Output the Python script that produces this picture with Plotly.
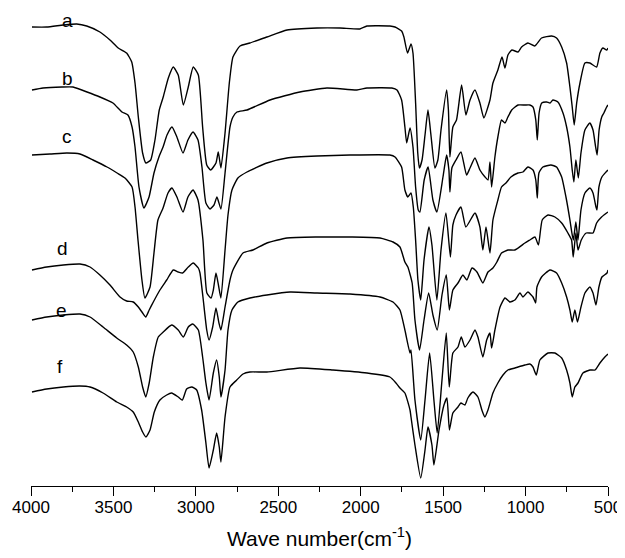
import plotly.graph_objects as go

# FTIR spectra, wavenumber (cm-1) vs. offset transmittance (arbitrary units)
wn_a = [3994,3905,3804,3723,3662,3582,3521,3471,3420,3389,3369,3349,3323,3303,3274,3248,3222,3198,3167,3137,3107,3076,3046,3016,2985,2959,2934,2910,2878,2864,2848,2823,2797,2775,2732,2672,2569,2447,2265,2126,2005,1962,1823,1792,1752,1738,1716,1695,1683,1667,1654,1644,1628,1610,1592,1574,1550,1532,1513,1479,1468,1459,1441,1419,1388,1362,1337,1307,1277,1253,1216,1198,1168,1143,1125,1107,1083,1046,1024,986,944,903,842,812,781,751,731,717,705,690,670,640,610,569,549,531,508,500]
t_a = [459,459,461,462,460,454,446,438,433,424,403,369,333,323,326,346,376,389,408,419,411,381,399,419,411,359,321,316,323,334,318,353,403,429,440,443,449,456,458,458,457,460,460,459,455,449,433,442,433,383,333,318,326,351,376,351,318,326,356,396,376,329,359,366,401,371,386,396,383,368,386,403,416,429,418,431,436,434,439,443,440,448,450,448,439,423,399,379,361,383,403,423,423,419,433,438,436,438]

wn_b = [3994,3927,3812,3745,3660,3582,3503,3448,3412,3387,3369,3345,3315,3284,3254,3224,3199,3175,3145,3115,3078,3048,3017,2987,2963,2939,2914,2890,2872,2848,2823,2793,2775,2751,2690,2550,2369,2205,2023,1962,1811,1780,1752,1732,1721,1701,1683,1667,1651,1641,1615,1591,1562,1538,1501,1479,1465,1459,1447,1422,1392,1358,1337,1307,1277,1246,1228,1216,1206,1186,1168,1146,1125,1107,1084,1046,1004,974,955,938,929,918,902,872,852,834,804,773,751,731,717,707,695,680,664,640,610,591,575,566,554,538,525,508,500]
t_b = [396,398,399,399,394,389,383,374,371,359,339,299,278,289,313,329,339,351,359,349,333,346,354,346,319,283,277,281,289,277,313,359,369,374,376,386,394,398,396,398,398,396,386,359,343,358,339,299,276,274,306,319,286,274,309,331,316,294,318,326,334,311,318,328,316,309,306,324,299,329,349,366,363,369,376,381,381,381,379,366,346,373,383,384,383,386,384,373,359,339,316,304,326,308,333,356,363,356,339,331,356,369,373,379,381]

wn_c = [3994,3885,3782,3703,3624,3539,3478,3430,3387,3369,3351,3327,3309,3278,3254,3230,3199,3169,3145,3115,3078,3048,3017,2987,2957,2933,2908,2894,2878,2863,2848,2823,2805,2781,2745,2690,2569,2447,2265,2065,1823,1792,1752,1732,1714,1695,1681,1667,1653,1636,1616,1586,1568,1538,1513,1483,1456,1441,1422,1392,1362,1307,1277,1259,1240,1216,1198,1168,1146,1119,1089,1046,1016,986,955,938,929,919,895,846,812,781,755,731,719,710,695,682,664,640,610,591,573,567,555,537,512,500]
t_c = [331,332,333,332,326,319,313,308,299,279,246,206,188,199,233,266,278,293,298,289,274,289,296,286,246,193,188,196,213,201,188,236,271,296,308,314,323,328,330,331,331,329,319,296,289,293,279,246,206,186,226,259,241,186,236,273,229,261,271,279,259,273,259,236,259,233,266,286,299,303,309,313,314,319,316,306,288,313,319,321,319,309,289,266,253,246,264,246,276,293,298,293,279,276,299,309,314,316]

wn_d = [3994,3905,3804,3703,3642,3582,3521,3460,3420,3380,3349,3323,3304,3283,3258,3218,3177,3137,3107,3080,3046,3016,2985,2975,2957,2934,2920,2898,2878,2860,2848,2823,2793,2775,2714,2654,2569,2447,2265,2065,1883,1804,1762,1732,1714,1688,1671,1643,1616,1588,1562,1536,1507,1481,1462,1441,1410,1380,1356,1325,1295,1259,1228,1198,1174,1146,1107,1065,1004,974,943,922,899,864,822,781,743,721,711,695,682,662,632,591,569,539,500]
t_d = [216,219,221,222,219,211,201,189,185,184,179,173,169,176,184,196,206,216,214,213,219,223,218,213,189,156,146,159,178,163,156,179,206,216,233,236,243,248,249,249,248,244,239,224,219,203,166,136,166,193,171,156,191,211,176,196,203,211,206,218,214,203,214,218,224,233,236,236,243,246,249,241,266,271,269,263,253,246,229,253,236,246,253,253,263,269,274]

wn_e = [3994,3905,3804,3703,3642,3563,3480,3420,3380,3349,3323,3304,3283,3258,3228,3198,3147,3107,3076,3046,3019,2985,2959,2939,2920,2894,2874,2858,2848,2823,2805,2781,2745,2672,2569,2429,2265,2065,1883,1804,1762,1732,1701,1695,1671,1636,1610,1582,1556,1536,1507,1481,1463,1441,1410,1390,1368,1337,1307,1289,1259,1236,1216,1206,1186,1155,1125,1095,1065,1034,1016,986,955,939,931,903,852,812,781,751,731,717,701,685,664,640,610,591,573,555,537,506,500]
t_e = [166,169,171,172,169,159,148,141,134,119,99,89,103,129,149,154,161,156,149,159,162,156,129,103,86,113,126,109,89,116,156,176,184,188,191,194,193,192,189,184,176,156,133,136,86,46,86,133,86,53,106,153,99,133,139,149,139,146,156,149,129,146,153,138,156,179,188,184,186,193,189,194,189,183,199,209,216,213,203,189,176,164,176,164,179,193,199,193,181,199,209,213,216]

wn_f = [3994,3905,3804,3703,3642,3563,3480,3420,3380,3349,3323,3303,3278,3252,3218,3177,3147,3107,3082,3056,3025,2995,2965,2939,2920,2894,2874,2858,2848,2823,2793,2752,2714,2672,2569,2369,2168,1962,1823,1786,1762,1732,1701,1695,1671,1636,1610,1592,1568,1556,1525,1495,1477,1462,1441,1410,1392,1368,1350,1319,1289,1265,1247,1228,1198,1168,1137,1107,1065,1004,974,955,935,913,864,822,781,751,731,717,701,682,652,610,579,549,519,500]
t_f = [94,97,99,100,99,93,84,79,74,64,54,49,56,74,86,91,93,89,86,97,99,96,76,43,18,36,53,39,24,69,99,106,112,114,114,118,116,113,109,103,98,93,76,69,41,8,36,59,41,21,56,81,88,56,73,79,83,81,88,94,89,76,69,76,93,103,111,116,118,121,122,119,111,126,133,133,128,116,103,89,99,103,113,116,116,123,129,132]

labels = ["a", "b", "c", "d", "e", "f"]
label_wn = [3776, 3776, 3782, 3806, 3815, 3824]
label_t = [466, 408, 350, 238, 176, 120]

x_ticks = [4000, 3500, 3000, 2500, 2000, 1500, 1000, 500]

series = [(wn_a, t_a), (wn_b, t_b), (wn_c, t_c), (wn_d, t_d), (wn_e, t_e), (wn_f, t_f)]

FONT = "Arial, Liberation Sans, sans-serif"

fig = go.Figure()
for (xs, ys), name in zip(series, labels):
    fig.add_trace(go.Scatter(x=xs, y=ys, mode="lines", name=name,
                             line=dict(color="black", width=1.4,
                                       shape="spline", smoothing=0.5),
                             showlegend=False, hoverinfo="skip"))

for name, xw, yt in zip(labels, label_wn, label_t):
    fig.add_annotation(x=xw, y=yt, text=name, showarrow=False,
                       font=dict(size=19, color="black", family=FONT))

# the page body adds an 8 px offset, so the figure is 8 px smaller
fig.update_layout(
    width=617, height=550,
    margin=dict(l=23, r=17, t=0, b=72),
    paper_bgcolor="white", plot_bgcolor="white",
    font=dict(family=FONT, color="black", size=17),
)
fig.update_xaxes(
    range=[4000, 500], tickvals=x_ticks, ticks="outside", ticklen=9,
    tickwidth=1.3, tickcolor="black", showline=True, linecolor="black",
    linewidth=1.3, showgrid=False, zeroline=False, mirror=False,
    tickfont=dict(size=17), automargin=False, ticklabelstandoff=-4,
    minor=dict(dtick=250, tick0=500, ticks="outside", ticklen=5,
               tickcolor="black", tickwidth=1.2, showgrid=False),
    title=dict(text="Wave number(cm<sup>-1</sup>)", font=dict(size=21), standoff=15),
)
fig.update_yaxes(range=[0, 478], visible=False, showgrid=False, zeroline=False)

fig.write_html("out.html")
